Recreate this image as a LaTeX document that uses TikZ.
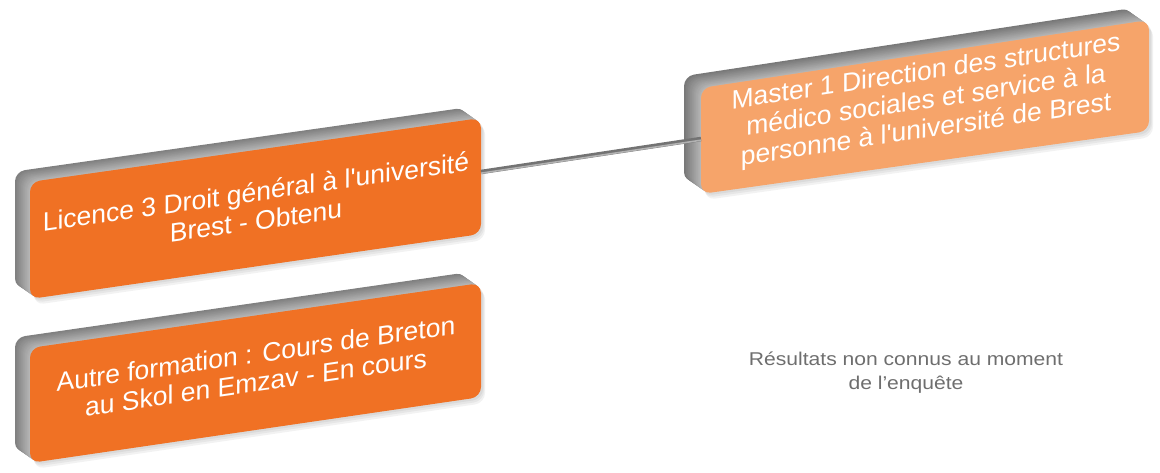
\documentclass[tikz,border=0pt]{standalone}
\usepackage{fontspec}
\setmainfont{Liberation Sans}[Ligatures=TeXOff]
\definecolor{orgdark}{HTML}{F07124}
\definecolor{orglight}{HTML}{F6A46A}
\definecolor{restxt}{HTML}{6E6E6E}
\tikzset{
  boxtext/.style={text=white, font=\fontsize{26.5}{29}\selectfont, align=center, inner sep=0pt, anchor=center, transform shape},
  note/.style={text=restxt, font=\fontsize{18.5}{24}\selectfont, align=center, inner sep=0pt, xscale=1.14, transform shape},
  linkdark/.style={line width=4.5pt, draw=black!55},
  linklight/.style={line width=1.6pt, draw=black!30},
}
% 3D bevelled box: #1 TL, #2 TR, #3 BR, #4 BL, #5 face colour, #6 depth
\newcommand\tdbox[6]{%
  \foreach \s in {1,2,3}{
    \fill[black, opacity=0.05, rounded corners=10pt, shift={({1+\s},{2*\s})}] #1 -- #2 -- #3 -- #4 -- cycle;
  }
  \foreach \i in {#6,...,1}{
    \pgfmathsetmacro\g{int(28+1.5*\i)}
    \fill[black!\g, rounded corners=10pt, shift={({-\i},{-0.7*\i})}] #1 -- #2 -- #3 -- #4 -- cycle;
  }
  \fill[#5, rounded corners=10pt] #1 -- #2 -- #3 -- #4 -- cycle;
}
\begin{document}
\begin{tikzpicture}[x=1pt,y=-1pt]
\useasboundingbox (0,0) rectangle (1160,473);

\tdbox{(30,182)}{(481,118)}{(481,234)}{(30,299)}{orgdark}{15}
\tdbox{(30,348)}{(481,283)}{(481,397)}{(30,463)}{orgdark}{15}
\tdbox{(701,88)}{(1149,20)}{(1149,131)}{(701,194)}{orglight}{17}

\coordinate (licR) at (481,172);
\coordinate (masL) at (701,139);
\draw[linkdark] (licR) -- (masL);
\draw[linklight] ([yshift=-1.2pt]licR) -- ([yshift=-1.2pt]masL);

\node[boxtext, yslant=0.142] (licence) at (256,206) {Licence 3 Droit général à l'université\\Brest - Obtenu};
\node[boxtext, yslant=0.145] (autre) at (256,368) {Autre formation : Cours de Breton\\au Skol en Emzav - En cours};
\node[boxtext, yslant=0.15] (master) at (926,102) {Master 1 Direction des structures\\médico sociales et service à la\\personne à l'université de Brest};

\node[note] (resultats) at (906,373) {Résultats non connus au moment\\de l’enquête};
\end{tikzpicture}
\end{document}
